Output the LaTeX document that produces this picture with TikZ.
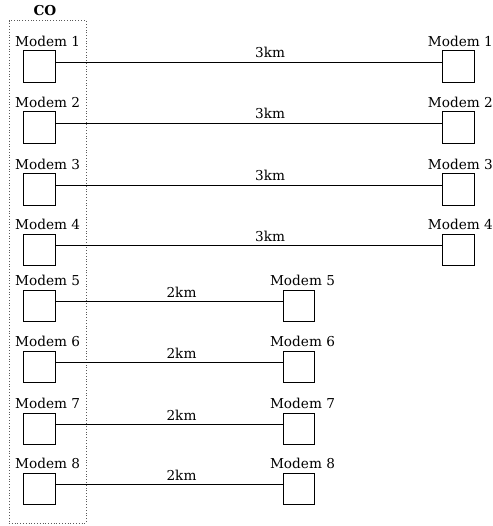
\documentclass[tikz,border=0pt]{standalone}
\usepackage{fontspec}
\setmainfont{DejaVu Serif}
\begin{document}
\begin{tikzpicture}[x=1bp,y=-1bp,
  modem/.style={draw, line width=0.9bp, minimum width=31.5bp, minimum height=31.5bp, inner sep=0pt},
  mlabel/.style={anchor=base, inner sep=0pt, font=\fontsize{13.7}{16}\selectfont},
  link/.style={line width=0.9bp},
  dist/.style={above=0.3bp, pos=0.555, font=\fontsize{13.7}{16}\selectfont},
  cobox/.style={draw=black!65, dotted, line width=0.8bp, minimum width=77bp, minimum height=502.3bp, inner sep=0pt}]
\useasboundingbox (0,0) rectangle (493,526);

% central office frame and its title
\node[cobox] (co) at (47.5,271.85) {};
\node[anchor=base, inner sep=0pt, font=\fontsize{13.7}{16}\selectfont\bfseries] (cot) at (45,15.7) {CO};

% modems at the central office
\foreach \i/\t in {1/50.7,2/111.5,3/173.5,4/234.2,5/290,6/351,7/413.3,8/473.3} {
  \node[modem] (L\i) at (39.2,\t+15.75) {};
  \node[mlabel] (L\i t) at ([xshift=8.5bp,yshift=4bp]L\i.north) {Modem \i};
}

% remote modems on the 3 km loops
\foreach \i/\t in {1/50.7,2/111.5,3/173.5,4/234.2} {
  \node[modem] (R\i) at (458.3,\t+15.75) {};
  \node[mlabel] (R\i t) at ([xshift=2bp,yshift=4bp]R\i.north) {Modem \i};
  \draw[link] ([yshift=-12bp]L\i.north east) -- node[dist] {3km} ([yshift=-12bp]R\i.north west);
}

% remote modems on the 2 km loops
\foreach \i/\t in {5/290,6/351,7/413.3,8/473.3} {
  \node[modem] (M\i) at (298.8,\t+15.75) {};
  \node[mlabel] (M\i t) at ([xshift=3.7bp,yshift=4bp]M\i.north) {Modem \i};
  \draw[link] ([yshift=-12bp]L\i.north east) -- node[dist] {2km} ([yshift=-12bp]M\i.north west);
}
\end{tikzpicture}
\end{document}
